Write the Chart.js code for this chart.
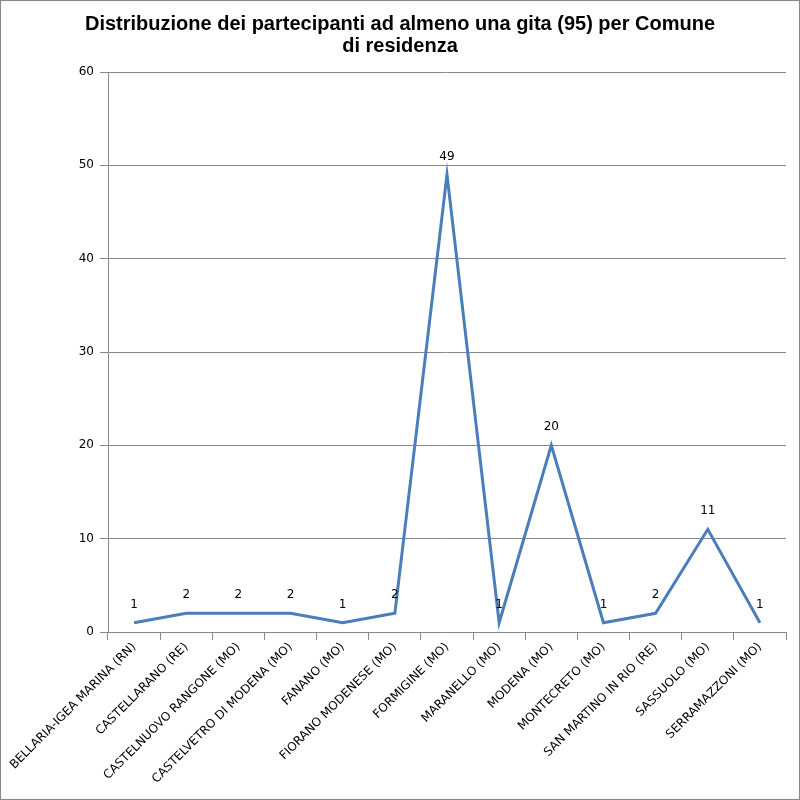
<!DOCTYPE html>
<html>
<head>
<meta charset="utf-8">
<script src="https://cdn.jsdelivr.net/npm/chart.js@4/dist/chart.umd.min.js"></script>
<style>
html,body{margin:0;padding:0;background:#fff;}
#wrap{width:800px;height:800px;}
</style>
</head>
<body>
<div id="wrap"><canvas id="c" width="800" height="800"></canvas></div>
<script>
const categories = [
  "BELLARIA-IGEA MARINA (RN)",
  "CASTELLARANO (RE)",
  "CASTELNUOVO RANGONE (MO)",
  "CASTELVETRO DI MODENA (MO)",
  "FANANO (MO)",
  "FIORANO MODENESE (MO)",
  "FORMIGINE (MO)",
  "MARANELLO (MO)",
  "MODENA (MO)",
  "MONTECRETO (MO)",
  "SAN MARTINO IN RIO (RE)",
  "SASSUOLO (MO)",
  "SERRAMAZZONI (MO)"
];
const participants = [1, 2, 2, 2, 1, 2, 49, 1, 20, 1, 2, 11, 1];
const titleLines = ["Distribuzione dei partecipanti ad almeno una gita (95) per Comune", "di residenza"];

const FONT = "'DejaVu Sans', Verdana, sans-serif";

const dataLabels = {
  id: 'dataLabels',
  afterDatasetsDraw(chart) {
    const ctx = chart.ctx;
    const meta = chart.getDatasetMeta(0);
    ctx.save();
    ctx.font = "12px " + FONT;
    ctx.fillStyle = "#000";
    ctx.textAlign = "center";
    ctx.textBaseline = "middle";
    meta.data.forEach((pt, i) => {
      ctx.fillText(String(chart.data.datasets[0].data[i]), pt.x, pt.y - 18);
    });
    ctx.restore();
  }
};
const frame = {
  id: 'frame',
  afterDraw(chart) {
    const ctx = chart.ctx;
    ctx.save();
    ctx.strokeStyle = "#888";
    ctx.lineWidth = 1;
    ctx.strokeRect(0.5, 0.5, chart.width - 1, chart.height - 1);
    ctx.restore();
  }
};

new Chart(document.getElementById('c'), {
  type: 'line',
  data: {
    labels: categories,
    datasets: [{
      data: participants,
      borderColor: '#4a7ebb',
      backgroundColor: '#4a7ebb',
      borderWidth: 3,
      pointRadius: 0,
      tension: 0,
      fill: false
    }]
  },
  options: {
    responsive: false,
    animation: false,
    devicePixelRatio: 1,
    layout: { padding: { left: 14, right: 14, top: 11, bottom: 0 } },
    plugins: {
      legend: { display: false },
      tooltip: { enabled: false },
      title: {
        display: true,
        text: titleLines,
        color: '#000',
        font: { family: "'Liberation Sans', Arial, sans-serif", size: 20, weight: 'bold', lineHeight: 1.1 },
        padding: { top: 2, bottom: 15 }
      }
    },
    scales: {
      x: {
        offset: true,
        grid: { offset: true, drawOnChartArea: false, drawTicks: true, tickLength: 8, color: '#888' },
        border: { color: '#888' },
        ticks: {
          color: '#000',
          font: { family: FONT, size: 12 },
          maxRotation: 45,
          minRotation: 45,
          autoSkip: false,
          padding: 0
        },
        afterFit(s) { s.height = 168; }
      },
      y: {
        min: 0,
        max: 60,
        ticks: { stepSize: 10, color: '#000', font: { family: FONT, size: 12 }, padding: 6 },
        grid: { color: '#888', tickLength: 8 },
        border: { color: '#888' },
        afterFit(s) { s.width = 94; }
      }
    }
  },
  plugins: [dataLabels, frame]
});
</script>
</body>
</html>
